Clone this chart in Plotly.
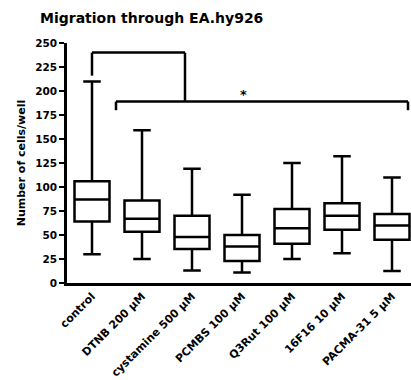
import plotly.graph_objects as go

categories = ["control", "DTNB 200 µM", "cystamine 500 µM", "PCMBS 100 µM",
              "Q3Rut 100 µM", "16F16 10 µM", "PACMA-31 5 µM"]
upper = [210, 159, 119, 92, 125, 132, 110]
q3 = [106, 86, 70, 50, 77, 83, 72]
median = [87, 67, 48, 38, 57, 70, 60]
q1 = [64, 53.5, 35.5, 23, 41, 55.5, 45]
lower = [30, 25, 13, 11, 25, 31, 12.5]
y_ticks = [0, 25, 50, 75, 100, 125, 150, 175, 200, 225, 250]

xs = list(range(len(categories)))
FONT = "DejaVu Sans, Liberation Sans, sans-serif"
LW = 2.5

fig = go.Figure()
fig.add_trace(go.Box(
    x=xs, q1=q1, median=median, q3=q3, lowerfence=lower, upperfence=upper,
    width=0.7, whiskerwidth=0.5, fillcolor="white",
    line=dict(color="black", width=LW), boxpoints=False, showlegend=False,
    hoverinfo="skip",
))

# significance bracket
top_y, low_y, tick_y, ctrl_y = 240, 189, 180, 216
left_x, right_x, mid_x = xs[1] - 0.52, xs[-1] + 0.32, 1.86
bracket = [
    (xs[0], ctrl_y, xs[0], top_y),
    (xs[0], top_y, mid_x, top_y),
    (mid_x, top_y, mid_x, low_y),
    (left_x, low_y, right_x, low_y),
    (left_x, low_y, left_x, tick_y),
    (right_x, low_y, right_x, tick_y),
]
for x0, y0, x1, y1 in bracket:
    fig.add_shape(type="line", x0=x0, y0=y0, x1=x1, y1=y1, xref="x", yref="y",
                  line=dict(color="black", width=LW))
fig.add_annotation(x=xs[3] + 0.02, y=196, text="*", showarrow=False,
                   yanchor="middle", font=dict(family=FONT, size=13, color="black", weight="bold"))

fig.update_layout(
    width=411, height=380,
    margin=dict(l=67, r=0, t=43, b=97),
    plot_bgcolor="white", paper_bgcolor="white",
    title=dict(text="Migration through EA.hy926", x=40 / 411, xanchor="left",
               y=1 - 18 / 380, yanchor="middle",
               font=dict(family=FONT, size=14, color="black", weight="bold")),
    xaxis=dict(range=[-0.5, 6.38], tickmode="array", tickvals=xs, ticktext=categories,
               tickangle=-45, showline=True, linecolor="black", linewidth=LW,
               showgrid=False, zeroline=False, ticks="",
               tickfont=dict(family=FONT, size=11, color="black", weight="bold")),
    yaxis=dict(range=[0, 250], tickmode="array", tickvals=y_ticks,
               showline=True, linecolor="black", linewidth=LW,
               showgrid=False, zeroline=False, ticks="outside", ticklen=5,
               tickwidth=2, tickcolor="black",
               title=dict(text="Number of cells/well", standoff=8,
                          font=dict(family=FONT, size=11, color="black", weight="bold")),
               tickfont=dict(family=FONT, size=10.5, color="black", weight="bold")),
)

fig.write_html("out.html")
